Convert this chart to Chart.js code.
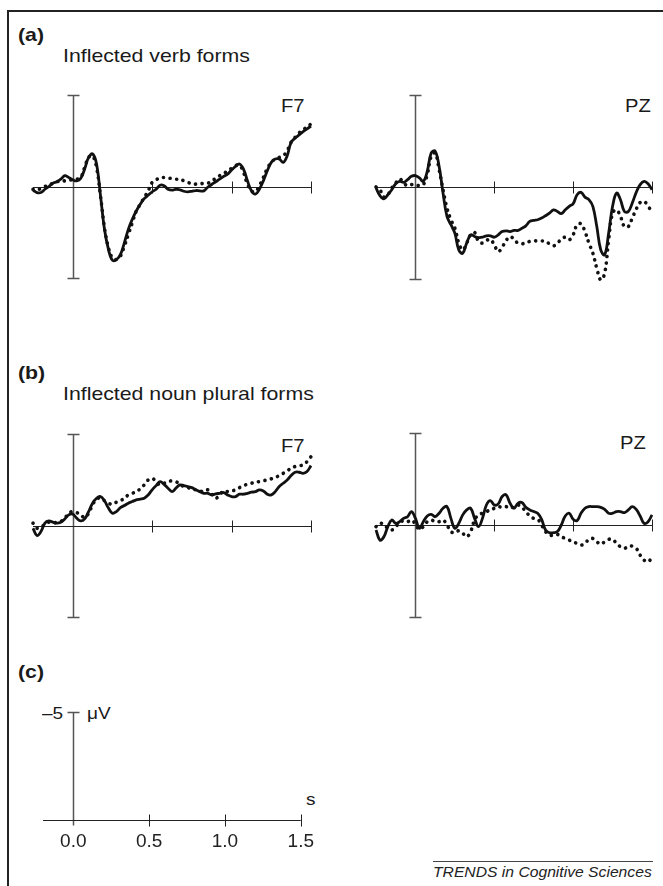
<!DOCTYPE html>
<html lang="en">
<head>
    <meta charset="UTF-8">
    <title>ERP waveforms – inflected forms</title>
    <style>
        body {
            margin: 0;
            padding: 0;
            background: #fff;
        }

        #figure {
            position: relative;
            width: 663px;
            height: 886px;
            overflow: hidden;
            font-family: "Liberation Sans", Arial, Helvetica, sans-serif;
            color: #1a1a1a;
        }

        #frame {
            position: absolute;
            left: 7px;
            top: 10px;
            width: 670px;
            height: 900px;
            border-top: 2px solid #222;
            border-left: 2px solid #222;
        }

        canvas {
            position: absolute;
        }

        .t {
            position: absolute;
            white-space: nowrap;
            line-height: 1;
            transform-origin: 0 0;
            transform: scaleX(1.12);
        }

        .panel { font-weight: bold; font-size: 19px; }
        .title { font-size: 19px; }
        .site { font-size: 18px; }
        .unit { font-size: 17px; }

        #credit {
            font-size: 14px;
            font-style: italic;
            color: #222;
        }

        #creditRule {
            position: absolute;
            left: 433px;
            top: 861px;
            width: 220px;
            height: 1px;
            background: #444;
        }
    </style>
</head>
<body>
<div id="figure">
    <div id="frame"></div>

    <div class="t panel" style="left:18px; top:25px;">(a)</div>
    <div class="t title" style="left:63px; top:46px;">Inflected verb forms</div>
    <div class="t site" style="left:281px; top:97px;">F7</div>
    <div class="t site" style="left:625px; top:97px;">PZ</div>
    <canvas id="verbF7" width="298" height="203" style="left:23px; top:85px;"></canvas>
    <canvas id="verbPZ" width="296" height="204" style="left:366px; top:85px;"></canvas>

    <div class="t panel" style="left:18px; top:363px;">(b)</div>
    <div class="t title" style="left:63px; top:384px;">Inflected noun plural forms</div>
    <div class="t site" style="left:281px; top:437px;">F7</div>
    <div class="t site" style="left:620px; top:434px;">PZ</div>
    <canvas id="nounF7" width="298" height="203" style="left:23px; top:424px;"></canvas>
    <canvas id="nounPZ" width="296" height="204" style="left:366px; top:423px;"></canvas>

    <div class="t panel" style="left:18px; top:662px;">(c)</div>
    <div class="t unit" style="left:42px; top:705px;">–5</div>
    <div class="t unit" style="left:87px; top:705px;">μV</div>
    <div class="t unit" style="left:306px; top:791px;">s</div>
    <canvas id="scaleBar" width="301" height="168" style="left:23px; top:700px;"></canvas>

    <div id="creditRule"></div>
    <div class="t" id="credit" style="left:433px; top:865px;">TRENDS in Cognitive Sciences</div>
</div>

<script src="https://cdn.jsdelivr.net/npm/chart.js"></script>
<script>
    // time base (s), one sample every 25 ms from -0.25 to 1.5
    const times = Array.from({ length: 71 }, (_, i) => +(-0.25 + i * 0.025).toFixed(3));
    const timeTicks = [0, 0.5, 1.0, 1.5];

    // amplitudes in µV (negative plotted up)
    const verbF7Solid = [0.20, 0.33, 0.33, 0.15, 0, -0.18, -0.26, -0.40, -0.59, -0.49,
        -0.37, -0.31, -0.44, -0.95, -1.59, -1.78, -1.23, 0.51, 2.34, 3.44,
        4.03, 3.99, 3.72, 3.08, 2.34, 1.79, 1.34, 0.97, 0.66, 0.48,
        0.29, 0.15, -0.07, -0.04, 0.15, 0.20, 0.15, 0.18, 0.26, 0.29,
        0.26, 0.22, 0.24, 0.24, 0.04, -0.11, -0.26, -0.40, -0.55, -0.68,
        -0.90, -1.10, -1.23, -0.95, -0.31, 0.24, 0.42, 0.15, -0.31, -0.86,
        -1.32, -1.50, -1.50, -1.32, -1.68, -2.42, -2.64, -2.82, -3.00, -3.15, -3.30];
    const verbF7Dotted = [0.15, 0.18, 0.11, 0, -0.07, -0.18, -0.26, -0.29, -0.31, -0.35,
        -0.37, -0.40, -0.49, -1.04, -1.59, -1.68, -1.04, 0.51, 2.25, 3.35,
        3.90, 3.99, 3.81, 3.26, 2.62, 1.98, 1.34, 0.97, 0.60, 0.24,
        -0.22, -0.37, -0.46, -0.49, -0.46, -0.44, -0.40, -0.40, -0.31, -0.22,
        -0.16, -0.13, -0.13, -0.18, -0.18, -0.31, -0.44, -0.59, -0.71, -0.86,
        -0.99, -1.14, -1.17, -0.77, -0.13, 0.24, 0.29, -0.04, -0.49, -0.99,
        -1.32, -1.50, -1.59, -1.68, -1.96, -2.42, -2.69, -2.93, -3.11, -3.24, -3.42];
    const verbPZSolid = [0.05, 0.47, 0.65, 0.42, 0.15, -0.18, -0.31, -0.25, -0.40, -0.58,
        -0.62, -0.49, -0.31, -0.85, -1.85, -1.95, -1.13, 0.33, 1.60, 2.05,
        2.51, 3.42, 3.60, 3.05, 2.60, 2.69, 2.75, 2.73, 2.65, 2.65,
        2.73, 2.60, 2.42, 2.38, 2.42, 2.36, 2.36, 2.24, 2.11, 1.87,
        1.82, 1.78, 1.69, 1.56, 1.42, 1.24, 1.33, 1.45, 1.24, 1.05,
        0.91, 0.42, 0.29, 0.55, 0.69, 1.05, 2.15, 3.42, 3.69, 2.51,
        1.05, 0.33, 0.69, 1.33, 1.33, 0.87, 0.29, -0.13, -0.31, -0.18, 0.15];
    const verbPZDotted = [0, 0.15, 0.55, 0.42, 0.05, -0.22, -0.44, -0.22, -0.07, -0.13,
        -0.13, -0.07, -0.13, -0.67, -1.67, -1.85, -0.95, 0.15, 1.15, 1.78,
        2.24, 3.05, 3.42, 3.05, 2.60, 2.47, 2.96, 3.05, 2.91, 2.84,
        3.15, 3.51, 3.27, 2.91, 2.69, 2.84, 3.05, 3.09, 3.02, 2.96,
        2.93, 2.93, 2.93, 2.96, 3.09, 3.20, 3.05, 2.84, 2.73, 2.87,
        2.60, 2.05, 2.00, 2.42, 3.05, 3.60, 4.42, 5.05, 4.69, 2.87,
        1.42, 1.24, 1.60, 2.15, 2.15, 1.69, 1.20, 0.84, 0.78, 1.05, 1.33];
    const nounF7Solid = [0.15, 0.55, 0.33, -0.13, -0.25, -0.18, -0.13, -0.18, -0.36, -0.58,
        -0.62, -0.40, -0.25, -0.36, -0.76, -1.22, -1.49, -1.58, -1.35, -0.95,
        -0.67, -0.76, -0.98, -1.09, -1.22, -1.31, -1.40, -1.44, -1.49, -1.67,
        -1.95, -2.18, -2.40, -2.25, -2.04, -1.85, -2.04, -2.22, -2.18, -2.13,
        -2.07, -1.95, -1.85, -1.76, -1.76, -1.67, -1.73, -1.76, -1.80, -1.67,
        -1.58, -1.58, -1.71, -1.71, -1.76, -1.82, -1.85, -1.95, -1.89, -1.71,
        -1.67, -1.85, -2.13, -2.31, -2.49, -2.73, -2.91, -2.91, -2.85, -2.95, -3.27];
    const nounF7Dotted = [-0.13, 0.15, 0.05, -0.04, -0.18, -0.13, -0.18, -0.22, -0.40, -0.67,
        -0.76, -0.71, -0.58, -0.44, -0.67, -1.13, -1.45, -1.49, -1.35, -1.22,
        -1.16, -1.27, -1.35, -1.49, -1.67, -1.76, -1.85, -2.00, -2.22, -2.49,
        -2.58, -2.40, -2.22, -2.31, -2.40, -2.44, -2.40, -2.25, -2.13, -2.07,
        -2.00, -1.95, -1.89, -1.85, -1.95, -1.71, -1.49, -1.67, -1.89, -1.85,
        -1.89, -1.95, -2.07, -2.18, -2.25, -2.31, -2.36, -2.40, -2.45, -2.49,
        -2.55, -2.62, -2.73, -2.85, -2.98, -3.13, -3.22, -3.27, -3.31, -3.49, -3.76];
    const nounPZSolid = [0.27, 0.82, 0.64, 0.09, -0.27, -0.09, -0.18, -0.36, -0.45, -0.73,
        -0.36, 0.18, -0.18, -0.49, -0.58, -0.45, -0.64, -0.91, -1.00, -0.36,
        0.18, -0.09, -0.55, -0.82, -0.91, -0.36, 0.09, -0.36, -1.09, -1.33,
        -1.09, -1.15, -1.55, -1.64, -1.18, -0.91, -1.18, -1.22, -0.96, -0.82,
        -0.73, -0.64, -0.31, 0.27, 0.42, 0.42, 0.36, 0, -0.49, -0.64,
        -0.31, -0.24, -0.64, -0.91, -1.00, -1.00, -1.00, -0.96, -0.85, -0.64,
        -0.64, -0.73, -0.73, -0.67, -0.82, -1.00, -0.85, -0.49, -0.09, -0.18, -0.55];
    const nounPZDotted = [0.09, -0.09, -0.04, 0.18, 0.27, 0.09, -0.13, -0.24, -0.18, -0.27,
        -0.05, 0.24, 0.09, -0.18, -0.27, -0.18, -0.18, -0.27, 0, 0.36,
        0.42, 0.31, 0.45, 0.64, 0.36, -0.27, -0.55, -0.64, -0.73, -0.82,
        -0.91, -1.00, -0.96, -1.00, -0.91, -1.00, -1.09, -0.96, -0.73, -0.49,
        -0.36, -0.31, 0, 0.36, 0.55, 0.55, 0.51, 0.64, 0.73, 0.82,
        0.91, 1.00, 1.09, 1.00, 0.78, 0.73, 0.91, 1.04, 0.91, 0.78,
        0.78, 1.00, 1.18, 1.27, 1.15, 1.15, 1.27, 1.64, 1.91, 2.00, 1.76];

    // draws the calibration cross (vertical bar at t=0, baseline with ticks)
    const erpAxes = {
        id: 'erpAxes',
        beforeDatasetsDraw(chart, args, opts) {
            const { ctx, scales: { x, y } } = chart;
            const x0 = Math.round(x.getPixelForValue(0)) + 0.5;
            const yZero = Math.round(y.getPixelForValue(0)) + 0.5;
            const yTop = Math.round(y.getPixelForValue(opts.barTop)) + 0.5;
            const yBot = opts.barBottom === 0 ? yZero + 5 : Math.round(y.getPixelForValue(opts.barBottom)) + 0.5;
            ctx.save();
            // vertical bar
            ctx.strokeStyle = '#555';
            ctx.lineWidth = 1.5;
            ctx.beginPath();
            ctx.moveTo(x0, yTop);
            ctx.lineTo(x0, yBot);
            ctx.moveTo(x0 - 6, yTop);
            ctx.lineTo(x0 + 6, yTop);
            if (opts.barBottom !== 0) {
                ctx.moveTo(x0 - 6, yBot);
                ctx.lineTo(x0 + 6, yBot);
            }
            ctx.stroke();
            // time axis
            ctx.strokeStyle = '#222';
            ctx.lineWidth = 1;
            ctx.beginPath();
            ctx.moveTo(x.getPixelForValue(x.min), yZero);
            ctx.lineTo(x.getPixelForValue(x.max), yZero);
            opts.ticks.forEach(t => {
                const xt = Math.round(x.getPixelForValue(t)) + 0.5;
                ctx.moveTo(xt, yZero - 6);
                ctx.lineTo(xt, yZero + 6);
            });
            ctx.stroke();
            ctx.restore();
        }
    };

    function toPoints(values) {
        return values.map((v, i) => ({ x: times[i], y: v }));
    }

    function makePanel(id, solid, dotted) {
        new Chart(document.getElementById(id), {
            type: 'line',
            data: {
                datasets: [{
                    data: toPoints(dotted),
                    borderColor: '#111',
                    borderWidth: 3.6,
                    borderDash: [0.1, 6.5],
                    borderCapStyle: 'round',
                    pointRadius: 0,
                    tension: 0.4,
                    clip: false
                }, {
                    data: toPoints(solid),
                    borderColor: '#111',
                    borderWidth: 2.8,
                    pointRadius: 0,
                    tension: 0.4,
                    clip: false
                }]
            },
            options: {
                responsive: false,
                animation: false,
                events: [],
                layout: { padding: 10 },
                plugins: {
                    legend: { display: false },
                    tooltip: { enabled: false },
                    erpAxes: { barTop: -5, barBottom: 5, ticks: [0.5, 1.0, 1.5] }
                },
                scales: {
                    x: { type: 'linear', min: -0.25, max: 1.5, display: false },
                    y: { min: -5, max: 5, reverse: true, display: false }
                }
            },
            plugins: [erpAxes]
        });
    }

    makePanel('verbF7', verbF7Solid, verbF7Dotted);
    makePanel('verbPZ', verbPZSolid, verbPZDotted);
    makePanel('nounF7', nounF7Solid, nounF7Dotted);
    makePanel('nounPZ', nounPZSolid, nounPZDotted);

    // (c) calibration: -5 µV and time in seconds
    new Chart(document.getElementById('scaleBar'), {
        type: 'line',
        data: { datasets: [] },
        options: {
            responsive: false,
            animation: false,
            events: [],
            layout: { padding: { left: 20, right: 14, top: 12, bottom: 5 } },
            plugins: {
                legend: { display: false },
                tooltip: { enabled: false },
                erpAxes: { barTop: -5, barBottom: 0, ticks: [0.5, 1.0, 1.5] }
            },
            scales: {
                x: {
                    type: 'linear',
                    min: -0.2,
                    max: 1.5,
                    afterBuildTicks: s => { s.ticks = timeTicks.map(v => ({ value: v })); },
                    ticks: {
                        padding: 10,
                        color: '#222',
                        font: { family: '"Liberation Sans", Arial, sans-serif', size: 19 },
                        callback: v => v.toFixed(1)
                    },
                    grid: { display: false, drawTicks: false },
                    border: { display: false }
                },
                y: { min: -5, max: 0, reverse: true, display: false }
            }
        },
        plugins: [erpAxes]
    });
</script>
</body>
</html>
